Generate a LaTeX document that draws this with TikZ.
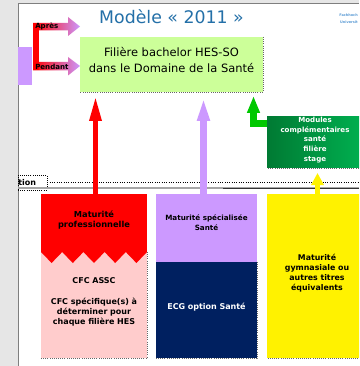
\documentclass[tikz,border=0pt]{standalone}
\usepackage{fontspec}
\setmainfont{DejaVu Sans}
\usetikzlibrary{arrows.meta,fit,positioning}

\definecolor{lilac}{HTML}{CC99FF}
\definecolor{navyblue}{HTML}{002060}
\definecolor{palegreen}{HTML}{CCFF99}
\definecolor{palepink}{HTML}{FFCCCC}
\definecolor{darkgreen}{HTML}{007A33}
\definecolor{midgreen}{HTML}{00B050}
\definecolor{titleblue}{HTML}{2470A8}
\definecolor{panelgray}{HTML}{E6E6E6}
\definecolor{framegray}{HTML}{7F7F7F}
\definecolor{arrowgreen}{HTML}{00C800}
\definecolor{logoblue}{HTML}{5B9BD5}

\begin{document}
\begin{tikzpicture}[x=0.75pt, y=-0.75pt,
    colbox/.style={inner sep=0pt, outer sep=0pt, align=center},
    boldtext/.style={font=\bfseries\fontsize{#1}{7.5}\selectfont, align=center, inner sep=0pt},
    boldtext/.default=5.4,
    edgedots/.style={draw=black!60, densely dotted, line width=0.6pt},
    blockup/.style n args={3}{line width=#1, -{Triangle[width=#2, length=#3]}}]

  \useasboundingbox (0,0) rectangle (359,366);
  \clip (0,0) rectangle (359,366);
  \fill[white] (0,0) rectangle (359,366);

  % window frame
  \fill[panelgray] (0,0) rectangle (18,366);
  \fill[panelgray] (0,0) rectangle (359,4);
  \draw[framegray, line width=0.75pt] (18,366) -- (18,4) -- (359,4);

  % title and logo
  \node[font=\fontsize{13}{15}\selectfont, text=titleblue] (title) at (171.5,17) {Modèle « 2011 »};
  \node[font=\bfseries\fontsize{2.6}{3}\selectfont, text=logoblue, anchor=east, inner sep=0pt] (logo1) at (358,15) {Fachhoch};
  \node[font=\bfseries\fontsize{2.6}{3}\selectfont, text=logoblue, anchor=east, inner sep=0pt] (logo2) at (358,22.5) {Universit};

  % bachelor box
  \node[colbox, fill=palegreen, fit={(80,37) (263,92)}, font=\fontsize{8.6}{12}\selectfont] (bachelor)
    {Filière bachelor HES-SO\\dans le Domaine de la Santé};

  % apres / pendant
  \fill[lilac] (18,47) rectangle (32,85);
  \shade[left color=red, right color=lilac] (33,23) -- (68,23) -- (68,17) -- (80,26.5) -- (68,36) -- (68,30.5) -- (33,30.5) -- cycle;
  \shade[left color=red, right color=lilac] (33,62) -- (68,62) -- (68,57) -- (80,66) -- (68,75.5) -- (68,70.5) -- (33,70.5) -- cycle;
  \fill[red] (33,23) rectangle (38.5,70.5);
  \node[boldtext=5.3, anchor=west] (apres) at (35,26.5) {Après};
  \node[boldtext=5.3, anchor=west] (pendant) at (35,66.5) {Pendant};

  % modules
  \node[colbox, left color=darkgreen, right color=midgreen, fit={(267,117) (363,168)}, text=white,
    font=\bfseries\fontsize{5.3}{7.3}\selectfont] (modules)
    {Modules\\complémentaires\\santé\\filière\\stage};

  % separation lines
  \node[colbox, draw, densely dotted, line width=0.6pt, fit={(18,175) (47,190)}] (formbox) {};
  \node[boldtext=6, anchor=west] (formtxt) at (18,183) {tion};
  \coordinate (dotend) at (359,182.5);
  \draw[densely dotted, line width=0.75pt, shorten <=2pt] (formbox.east) -- (dotend);
  \draw[black!35, line width=1.5pt] (18,188) -- (359,188);
  \draw[black!80, line width=0.6pt] (223,188) -- (359,188);

  % columns
  \node[colbox, fill=red, fit={(41,194) (147,252)}, boldtext=6.2] (matpro) {Maturité\\professionnelle};
  \node[colbox, fill=palepink, fit={(41,252) (147,358)}, boldtext=6] (cfc)
    {CFC ASSC\\[7.9pt]CFC spécifique(s) à\\déterminer pour\\chaque filière HES};
  \fill[red] (41,252) \foreach \i in {0,...,4} { -- ({41+21.2*\i+10.6},263) -- ({41+21.2*(\i+1)},252) } -- cycle;

  \node[colbox, fill=lilac, fit={(156,194) (257,262)}] (matspec) {};
  \node[boldtext] (matspectxt) at (206.5,223) {Maturité spécialisée\\Santé};
  \node[colbox, fill=navyblue, fit={(156,262) (257,358)}, boldtext=6, text=white] (ecg) {ECG option Santé};

  \node[colbox, fill=yellow, fit={(267,194) (367,358)}, boldtext=5.9] (gym)
    {Maturité\\gymnasiale ou\\autres titres\\équivalents};

  \foreach \b in {bachelor, modules, cfc, ecg, gym}
    \draw[edgedots] (\b.north east) -- (\b.south east) -- (\b.south west);

  % arrows
  \draw[red, blockup={4.1pt}{8.25pt}{19.5pt}, shorten >=2.25pt]
    (matpro.north -| 95.5,0) -- (bachelor.south -| 95.5,0);
  \draw[lilac, blockup={4.9pt}{8.5pt}{18pt}, shorten >=3.75pt]
    (matspec.north -| 203.5,0) -- (bachelor.south -| 203.5,0);
  \draw[arrowgreen, blockup={5.25pt}{9pt}{12.75pt}, shorten >=3pt]
    ([yshift=-5.25pt]modules.north west) -| (bachelor.south -| 253.5,0);
  \draw[yellow, blockup={3.75pt}{9pt}{9pt}, shorten >=3.75pt]
    (gym.north -| 317.5,0) -- (modules.south -| 317.5,0);
\end{tikzpicture}
\end{document}
